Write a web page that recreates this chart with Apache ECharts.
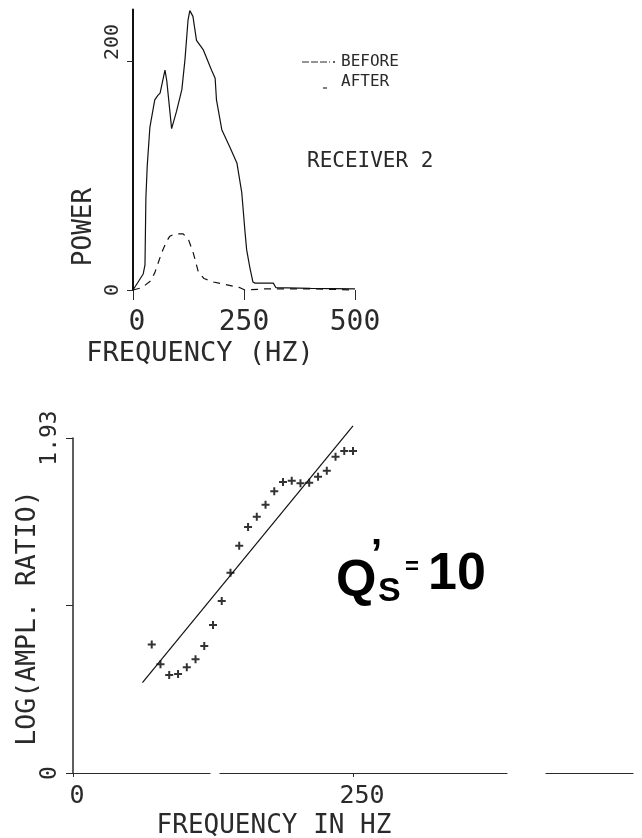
<!DOCTYPE html>
<html>
<head>
<meta charset="utf-8">
<script src="https://cdn.jsdelivr.net/npm/echarts@6/dist/echarts.min.js"></script>
<style>html,body{margin:0;padding:0;background:#fff}#c{width:642px;height:838px}</style>
</head>
<body>
<div id="c"></div>
<script>
// ---- Top panel: power spectra (Receiver 2) ----
const beforeFreq  = [0, 23, 27, 29, 32, 38, 49, 56, 61, 72, 76, 87, 98, 110, 117, 124, 128, 135, 143, 158, 177, 185, 188, 200, 218, 234, 245, 252, 256, 263, 270, 275, 316, 322, 400, 500];
const beforePower = [0, 14, 22, 80, 108, 142, 166, 170, 172, 192, 183, 141, 156, 175, 201, 236, 244, 239, 218, 210, 192, 185, 166, 140, 125, 111, 85, 52, 35, 20, 7, 6, 6, 2, 1.5, 1];
const afterFreq   = [0, 20, 40, 49, 65, 75, 83, 95, 113, 125, 136, 147, 160, 181, 241, 252, 300, 400, 500];
const afterPower  = [0, 2, 8, 15, 33, 42, 47, 49, 49, 44, 32, 16, 10, 7, 2, 0, 1, 1, 0];
const topXTicks = [0, 250, 500];
const topYTicks = [0, 200];

// ---- Bottom panel: log amplitude ratio ----
const ratioFreq = [70.3, 78.1, 85.9, 93.8, 101.6, 109.4, 117.2, 125.0, 132.8, 140.6, 148.4, 156.3, 164.1, 171.9, 179.7, 187.5, 195.3, 203.1, 210.9, 218.8, 226.6, 234.4, 242.2, 250.0];
const ratioLog  = [0.741, 0.626, 0.565, 0.570, 0.609, 0.655, 0.732, 0.853, 0.991, 1.154, 1.309, 1.417, 1.476, 1.546, 1.623, 1.676, 1.684, 1.669, 1.672, 1.707, 1.741, 1.822, 1.855, 1.855];
const fitFreq = [62, 250];
const fitLog  = [0.52, 2.0];
const botXTicks = [0, 250];
const botYTicks = [0, 0.965, 1.93];
const botYLabels = [0, 1.93];

const MONO = '"DejaVu Sans Mono", monospace';
const INK = '#2a2a2a';

const chart = echarts.init(document.getElementById('c'), null, {renderer: 'canvas'});
const zip = (a, b) => a.map((v, i) => [v, b[i]]);
const plus = 'path://M3,0H5V3H8V5H5V8H3V5H0V3H3Z';

chart.setOption({
  backgroundColor: '#fff',
  animation: false,
  grid: [
    {left: 133, right: 287, top: 9.5, bottom: 548},
    {left: 73, right: 9, top: 438, bottom: 65}
  ],
  xAxis: [
    {
      gridIndex: 0, type: 'value', min: 0, max: 500,
      axisLine: {show: false},
      axisTick: {show: true, customValues: topXTicks, length: 10, lineStyle: {color: INK, width: 1}},
      axisLabel: {
        customValues: topXTicks, margin: 19, fontFamily: MONO, fontSize: 28, color: INK,
        formatter: v => v === 0 ? '{sh|0}' : String(v),
        rich: {sh: {fontFamily: MONO, fontSize: 28, color: INK, padding: [0, 0, 0, 8]}}
      },
      splitLine: {show: false}
    },
    {
      gridIndex: 1, type: 'value', min: 0, max: 500,
      axisLine: {show: true, lineStyle: {color: INK, width: 1.2, type: [137, 10, 287, 39, 89, 60]}},
      axisTick: {show: true, customValues: botXTicks, length: 4, lineStyle: {color: INK}},
      axisLabel: {
        customValues: botXTicks, margin: 11, fontFamily: MONO, fontSize: 25, color: INK,
        formatter: v => v === 250 ? '{sh|250}' : '{s0|0}',
        rich: {
          sh: {fontFamily: MONO, fontSize: 25, color: INK, padding: [0, 0, 0, 18]},
          s0: {fontFamily: MONO, fontSize: 25, color: INK, padding: [0, 0, 0, 8]}
        }
      },
      splitLine: {show: false}
    }
  ],
  yAxis: [
    {
      gridIndex: 0, type: 'value', min: 0, max: 245,
      axisLine: {show: true, lineStyle: {color: '#111', width: 2}},
      axisTick: {show: true, customValues: topYTicks, length: 6, lineStyle: {color: INK}},
      axisLabel: {
        customValues: topYTicks, rotate: 90, margin: 10, fontFamily: MONO, fontSize: 20, color: INK,
        formatter: v => v === 200 ? '{up|' + v + '}' : String(v),
        rich: {up: {fontFamily: MONO, fontSize: 20, color: INK, padding: [0, 0, 0, 38]}}
      },
      splitLine: {show: false}
    },
    {
      gridIndex: 1, type: 'value', min: 0, max: 1.93,
      axisLine: {show: true, lineStyle: {color: INK, width: 1.5}},
      axisTick: {show: true, customValues: botYTicks, length: 7, lineStyle: {color: INK}},
      axisLabel: {
        customValues: botYLabels, rotate: 90, margin: 11, fontFamily: MONO, fontSize: 23, color: INK,
        formatter: v => v === 0 ? '0' : v.toFixed(2)
      },
      splitLine: {show: false}
    }
  ],
  series: [
    {
      name: 'BEFORE', type: 'line', xAxisIndex: 0, yAxisIndex: 0,
      data: zip(beforeFreq, beforePower), symbol: 'none', clip: false,
      lineStyle: {color: '#111', width: 1.2}
    },
    {
      name: 'AFTER', type: 'line', xAxisIndex: 0, yAxisIndex: 0,
      data: zip(afterFreq, afterPower), symbol: 'none', clip: false,
      lineStyle: {color: '#111', width: 1.2, type: [7, 6]}
    },
    {
      name: 'fit', type: 'line', xAxisIndex: 1, yAxisIndex: 1,
      data: zip(fitFreq, fitLog), symbol: 'none', clip: false,
      lineStyle: {color: '#111', width: 1.2}
    },
    {
      name: 'ratio', type: 'scatter', xAxisIndex: 1, yAxisIndex: 1,
      data: zip(ratioFreq, ratioLog), symbol: plus, symbolSize: 8,
      itemStyle: {color: '#000'}
    }
  ],
  graphic: [
    // axis titles
    {type: 'text', x: 84, y: 227, rotation: Math.PI / 2,
     style: {text: 'POWER', fontFamily: MONO, fontSize: 26, fill: INK, align: 'center', verticalAlign: 'middle'}},
    {type: 'text', x: 200, y: 354,
     style: {text: 'FREQUENCY (HZ)', fontFamily: MONO, fontSize: 27, fill: INK, align: 'center', verticalAlign: 'middle'}},
    {type: 'text', x: 28, y: 618, rotation: Math.PI / 2,
     style: {text: 'LOG(AMPL. RATIO)', fontFamily: MONO, fontSize: 26.5, fill: INK, align: 'center', verticalAlign: 'middle'}},
    {type: 'text', x: 274, y: 826,
     style: {text: 'FREQUENCY IN HZ', fontFamily: MONO, fontSize: 26, fill: INK, align: 'center', verticalAlign: 'middle'}},
    // legend
    {type: 'line', shape: {x1: 302, y1: 62, x2: 330, y2: 62}, style: {stroke: INK, lineWidth: 1.2, lineDash: [7, 2]}},
    {type: 'circle', shape: {cx: 334, cy: 62, r: 1}, style: {fill: INK}},
    {type: 'text', x: 341, y: 62,
     style: {text: 'BEFORE', fontFamily: MONO, fontSize: 16, fill: INK, align: 'left', verticalAlign: 'middle'}},
    {type: 'line', shape: {x1: 323, y1: 88, x2: 327, y2: 88}, style: {stroke: INK, lineWidth: 1.2}},
    {type: 'text', x: 341, y: 82,
     style: {text: 'AFTER', fontFamily: MONO, fontSize: 16, fill: INK, align: 'left', verticalAlign: 'middle'}},
    {type: 'text', x: 307, y: 162,
     style: {text: 'RECEIVER 2', fontFamily: MONO, fontSize: 21, fill: INK, align: 'left', verticalAlign: 'middle'}},
    // Q's = 10 annotation
    {type: 'text', x: 336, y: 582,
     style: {text: 'Q', fontFamily: '"Liberation Sans", Arial, sans-serif', fontWeight: 'bold', fontSize: 52, fill: '#000', align: 'left', verticalAlign: 'middle'}},
    {type: 'text', x: 371, y: 556,
     style: {text: '’', fontFamily: '"Liberation Sans", Arial, sans-serif', fontWeight: 'bold', fontSize: 40, fill: '#000', align: 'left', verticalAlign: 'middle'}},
    {type: 'text', x: 378, y: 592,
     style: {text: 'S', fontFamily: '"Liberation Sans", Arial, sans-serif', fontWeight: 'bold', fontSize: 34, fill: '#000', align: 'left', verticalAlign: 'middle'}},
    {type: 'text', x: 405, y: 567,
     style: {text: '=', fontFamily: '"Liberation Sans", Arial, sans-serif', fontWeight: 'bold', fontSize: 24, fill: '#000', align: 'left', verticalAlign: 'middle'}},
    {type: 'text', x: 428, y: 575,
     style: {text: '10', fontFamily: '"Liberation Sans", Arial, sans-serif', fontWeight: 'bold', fontSize: 52, fill: '#000', align: 'left', verticalAlign: 'middle'}}
  ]
});
</script>
</body>
</html>
